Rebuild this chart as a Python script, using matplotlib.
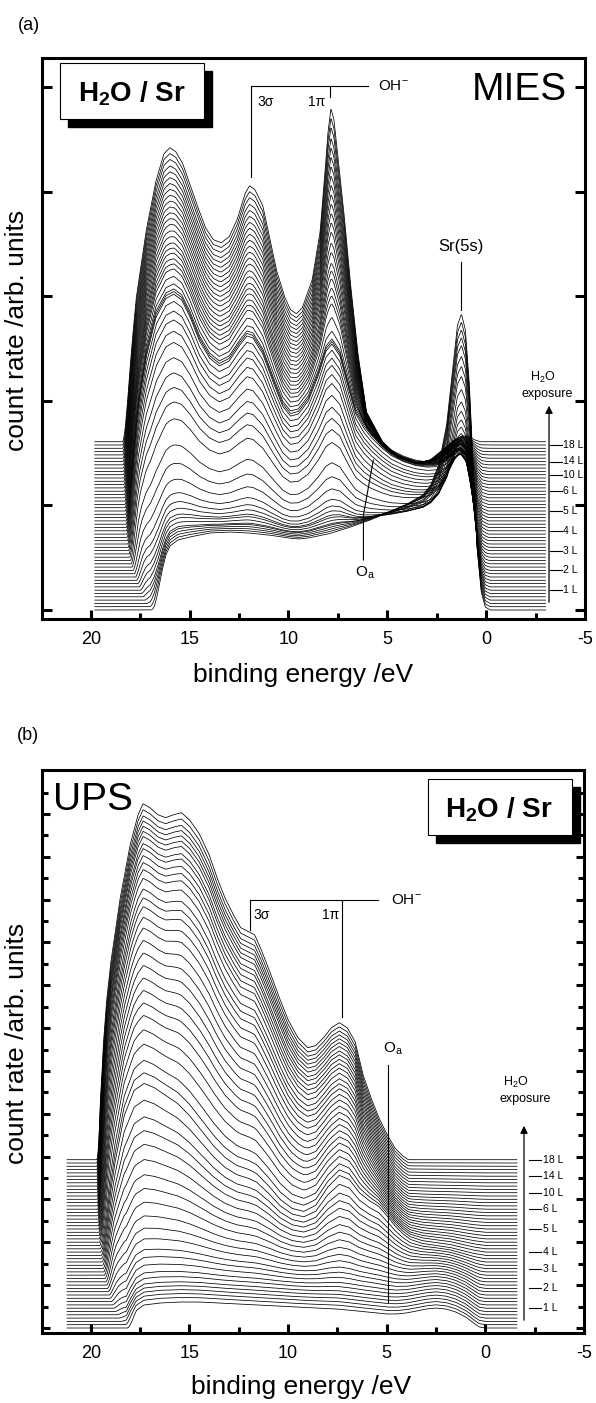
import numpy as np
import matplotlib
matplotlib.use("Agg")
import matplotlib.pyplot as plt
from matplotlib.patches import Rectangle
from matplotlib.ticker import FixedLocator

plt.rcParams['font.family'] = ['Liberation Sans', 'DejaVu Sans']
plt.rcParams['mathtext.fontset'] = 'custom'
plt.rcParams['mathtext.rm'] = 'Liberation Sans'
plt.rcParams['mathtext.it'] = 'Liberation Sans:italic'
plt.rcParams['mathtext.bf'] = 'Liberation Sans:bold'

# ------------------------------------------------------------------ data
N_SPECTRA = 52
OFFSET_STEP = 3.3          # counts between successive spectra
EXPOSURE_LABELS = ["1 L", "2 L", "3 L", "4 L", "5 L", "6 L", "10 L", "14 L", "18 L"]
EXPOSURE_INDEX_A = [6, 12, 18, 24, 30, 36, 41, 45, 50]
EXPOSURE_INDEX_B = [6, 12, 18, 23, 30, 36, 41, 46, 51]

# MIES reference spectra (binding energy / eV, intensity / counts)
MIES_E_CLEAN = [17.0, 16.8, 16.6, 16.4, 16.2, 16.0, 15.6, 15.0, 14.0, 13.0, 12.0, 11.0, 10.0,
                9.5, 9.0, 8.0, 7.0, 6.0, 5.0, 4.0, 3.2, 2.8, 2.4, 2.0, 1.7, 1.45, 1.25, 1.05,
                0.85, 0.65, 0.45, 0.25, 0.05, -0.2, -3.5]
MIES_I_CLEAN = [0, 8, 22, 40, 55, 64, 70, 73, 77, 78, 77, 75, 72,
                71, 72, 76, 82, 89, 97, 106, 115, 125, 145, 185, 240, 285, 296, 280,
                225, 140, 60, 18, 3, 0, 0]
MIES_E_MID = [18.3, 18.0, 17.6, 17.2, 16.7, 16.2, 15.8, 15.4, 15.0, 14.5, 14.0, 13.5, 13.0,
              12.5, 12.1, 11.8, 11.3, 10.8, 10.3, 9.9, 9.5, 9.0, 8.5, 8.1, 7.8, 7.4, 7.0,
              6.6, 6.2, 5.8, 5.3, 4.8, 4.2, 3.6, 3.0, 2.5, 2.0, 1.6, 1.3, 1.0, 0.7, 0.45,
              0.2, -0.1, -3.5]
MIES_I_MID = [0, 60, 120, 170, 210, 228, 232, 226, 210, 185, 168, 160, 165,
              180, 190, 188, 172, 145, 120, 110, 112, 125, 150, 175, 182, 170, 140,
              112, 98, 88, 78, 70, 64, 60, 58, 58, 63, 70, 72, 65, 40, 15,
              3, 0, 0]
MIES_E_OH = [18.45, 18.2, 17.9, 17.7, 17.2, 16.7, 16.3, 16.0, 15.7, 15.35, 14.65, 14.2, 13.8,
             13.4, 13.0, 12.6, 12.2, 11.97, 11.7, 11.3, 10.6, 10.2, 9.9, 9.6, 9.3, 8.8, 8.4,
             8.15, 8.0, 7.85, 7.7, 7.5, 7.2, 6.9, 6.5, 6.06, 5.25, 4.5, 3.5, 2.8, 2.2, 1.6,
             1.2, 0.9, 0.6, 0.3, -3.5]
MIES_I_OH = [0, 50, 105, 144, 211, 261, 288, 294, 290, 278, 238, 214, 202,
             199, 205, 222, 248, 256, 252, 236, 171, 145, 132, 128, 134, 162, 210,
             270, 310, 333, 322, 285, 230, 165, 90, 30, 0, -15, -22, -18, -8, 2,
             6, 5, 2, 0, 0]

# weights of the reference spectra for each of the 52 MIES spectra (bottom -> top)
MIES_W_CLEAN = [1.00, 0.96, 0.92, 0.88, 0.84, 0.79, 0.74, 0.69, 0.63, 0.57, 0.52, 0.47, 0.42,
                0.37, 0.32, 0.28, 0.24, 0.20, 0.16, 0.13, 0.10, 0.08, 0.06, 0.04, 0.03, 0.02,
                0.01, 0, 0, 0, 0, 0, 0, 0, 0, 0, 0, 0, 0, 0, 0, 0, 0, 0, 0, 0, 0, 0, 0, 0, 0, 0]
MIES_W_MID = [0, 0.01, 0.02, 0.03, 0.04, 0.05, 0.07, 0.09, 0.11, 0.14, 0.17, 0.21, 0.27,
              0.34, 0.42, 0.53, 0.60, 0.66, 0.72, 0.78, 0.84, 0.88, 0.92, 0.95, 0.98, 1.0,
              1.0, 1.0, 0.97, 0.90, 0.83, 0.80, 0.77, 0.73, 0.70, 0.67, 0.62, 0.58, 0.53,
              0.49, 0.45, 0.41, 0.37, 0.33, 0.29, 0.25, 0.21, 0.17, 0.13, 0.08, 0.04, 0]
MIES_W_OH = [0, 0, 0, 0, 0, 0, 0, 0, 0, 0, 0, 0, 0, 0, 0, 0, 0, 0, 0, 0, 0, 0, 0, 0, 0, 0,
             0, 0, 0.03, 0.10, 0.17, 0.20, 0.23, 0.27, 0.30, 0.33, 0.38, 0.42, 0.47, 0.51,
             0.55, 0.59, 0.63, 0.67, 0.71, 0.75, 0.79, 0.83, 0.87, 0.92, 0.96, 1.0]
MIES_CUTOFF = [16.95, 17.05, 17.15, 17.25, 17.35, 17.42, 17.48, 17.54, 17.60, 17.66, 17.72,
               17.78, 17.84, 17.90, 17.94, 17.98, 18.02, 18.05, 18.08, 18.10, 18.12, 18.14,
               18.16, 18.18, 18.19, 18.20, 18.21, 18.22, 18.23, 18.24, 18.25, 18.26, 18.27,
               18.28, 18.29, 18.30, 18.31, 18.32, 18.33, 18.34, 18.34, 18.35, 18.35, 18.36,
               18.36, 18.37, 18.37, 18.38, 18.38, 18.39, 18.39, 18.40]

# UPS reference spectra
UPS_E_CLEAN = [18.2, 18.0, 17.7, 17.3, 16.5, 15.5, 14.5, 13.5, 12.5, 11.5, 10.5, 9.5, 8.5,
               7.5, 6.5, 5.5, 5.0, 4.5, 4.0, 3.5, 3.0, 2.5, 2.0, 1.5, 1.0, 0.6, 0.3, 0.0, -2.0]
UPS_I_CLEAN = [0, 8, 18, 23, 25, 26, 26, 25, 24, 23, 22, 21, 20,
               19, 17, 15, 14, 14, 15, 17, 19, 20, 19, 16, 11, 5, 1, 0, 0]
UPS_E_MID = [19.5, 19.2, 18.8, 18.3, 17.8, 17.3, 16.8, 16.2, 15.6, 15.0, 14.4, 13.8, 13.2,
             12.6, 12.0, 11.6, 11.0, 10.4, 9.8, 9.2, 8.6, 8.0, 7.4, 6.9, 6.4, 5.9, 5.4, 5.0,
             4.6, 4.2, 3.8, 3.2, 2.5, 1.8, 1.2, 0.6, 0.0, -2.0]
UPS_I_MID = [0, 40, 90, 140, 165, 172, 168, 160, 152, 140, 125, 110, 98,
             90, 86, 82, 70, 56, 47, 44, 50, 68, 80, 76, 63, 55, 49, 40,
             30, 22, 16, 12, 10, 8, 5, 2, 0, 0]
UPS_E_OH = [19.7, 19.53, 19.0, 18.52, 18.0, 17.6, 17.35, 17.0, 16.6, 16.2, 15.8, 15.4, 15.0,
            14.5, 14.0, 13.6, 13.2, 12.8, 12.4, 12.0, 11.7, 11.4, 11.0, 10.5, 10.0, 9.5, 9.0,
            8.6, 8.2, 7.8, 7.4, 7.0, 6.6, 6.2, 5.8, 5.4, 5.0, 4.6, 4.2, 3.9, -2.0]
UPS_I_OH = [0, 110, 195, 260, 315, 345, 356, 352, 345, 342, 345, 347, 340,
            326, 305, 282, 262, 246, 232, 228, 225, 212, 192, 165, 140, 122, 112,
            114, 122, 132, 137, 132, 118, 85, 62, 42, 26, 12, 4, 0, 0]

UPS_W_CLEAN = [1, 0.99, 0.985, 0.98, 0.975, 0.97, 0.955, 0.94, 0.91, 0.88, 0.85, 0.80, 0.75,
               0.69, 0.62, 0.55, 0.48, 0.40, 0.32, 0.25, 0.18, 0.09, 0, 0, 0, 0, 0, 0, 0, 0,
               0, 0, 0, 0, 0, 0, 0, 0, 0, 0, 0, 0, 0, 0, 0, 0, 0, 0, 0, 0, 0, 0]
UPS_W_MID = [0, 0.01, 0.015, 0.02, 0.025, 0.03, 0.045, 0.06, 0.09, 0.12, 0.15, 0.20, 0.25,
             0.31, 0.38, 0.45, 0.52, 0.60, 0.68, 0.75, 0.82, 0.91, 1.0, 0.96, 0.91, 0.84,
             0.78, 0.72, 0.67, 0.62, 0.57, 0.52, 0.47, 0.42, 0.37, 0.33, 0.29, 0.26, 0.23,
             0.19, 0.16, 0.14, 0.12, 0.10, 0.09, 0.07, 0.06, 0.05, 0.04, 0.03, 0.015, 0]
UPS_W_OH = [0, 0, 0, 0, 0, 0, 0, 0, 0, 0, 0, 0, 0, 0, 0, 0, 0, 0, 0, 0, 0, 0, 0,
            0.04, 0.09, 0.16, 0.22, 0.28, 0.33, 0.38, 0.43, 0.48, 0.53, 0.58, 0.63, 0.67,
            0.71, 0.74, 0.77, 0.81, 0.84, 0.86, 0.88, 0.90, 0.91, 0.93, 0.94, 0.95, 0.96,
            0.97, 0.985, 1.0]
UPS_CUTOFF = [18.15, 18.30, 18.45, 18.55, 18.65, 18.75, 18.82, 18.88, 18.94, 19.00, 19.05,
              19.10, 19.14, 19.18, 19.22, 19.26, 19.30, 19.33, 19.36, 19.39, 19.42, 19.45,
              19.47, 19.49, 19.51, 19.53, 19.55, 19.56, 19.57, 19.58, 19.59, 19.60, 19.61,
              19.62, 19.63, 19.64, 19.64, 19.65, 19.65, 19.66, 19.66, 19.67, 19.67, 19.68,
              19.68, 19.68, 19.69, 19.69, 19.69, 19.70, 19.70, 19.70]

# shape of the secondary-electron cut-off (depth below cut-off / eV, factor)
EDGE_DEPTH = [0.0, 0.1, 0.2, 0.35, 0.5, 0.7]
EDGE_FACTOR = [0.0, 0.25, 0.55, 0.85, 0.97, 1.0]

# ------------------------------------------------------------------ figure
W, H = 596, 1403
fig = plt.figure(figsize=(W / 100, H / 100), dpi=100)


def rect(l, t, r, b):
    return [l / W, 1 - b / H, (r - l) / W, (b - t) / H]


axA = fig.add_axes(rect(42, 58, 585, 619))
axB = fig.add_axes(rect(42, 770, 584, 1333))


def draw_stack(ax, bases, weights, cutoffs, e_start, e_end):
    grid = np.linspace(e_start, e_end, 900)
    vals = [np.interp(grid, np.array(e)[::-1], np.array(i)[::-1]) for e, i in bases]
    for n in range(N_SPECTRA):
        spec = sum(w[n] * v for w, v in zip(weights, vals))
        edge = np.interp(cutoffs[n] - grid, EDGE_DEPTH, EDGE_FACTOR, left=0.0, right=1.0)
        ax.plot(grid, n * OFFSET_STEP + edge * spec, color='k', lw=0.55)


draw_stack(axA,
           [(MIES_E_CLEAN, MIES_I_CLEAN), (MIES_E_MID, MIES_I_MID), (MIES_E_OH, MIES_I_OH)],
           [MIES_W_CLEAN, MIES_W_MID, MIES_W_OH], MIES_CUTOFF, 19.8, -3.0)
draw_stack(axB,
           [(UPS_E_CLEAN, UPS_I_CLEAN), (UPS_E_MID, UPS_I_MID), (UPS_E_OH, UPS_I_OH)],
           [UPS_W_CLEAN, UPS_W_MID, UPS_W_OH], UPS_CUTOFF, 21.2, -1.6)


def style(ax, ylim, major, minor, ylen_major, ylen_minor):
    ax.set_xlim(22.47, -5)
    ax.set_ylim(*ylim)
    ax.set_xticks([20, 15, 10, 5, 0, -5])
    ax.set_xticklabels(['20', '15', '10', '5', '0', '-5'])
    ax.xaxis.set_minor_locator(FixedLocator([17.5, 12.5, 7.5, 2.5, -2.5]))
    ax.yaxis.set_major_locator(FixedLocator(major))
    ax.yaxis.set_minor_locator(FixedLocator(minor))
    for s in ax.spines.values():
        s.set_linewidth(2.2)
    ax.tick_params(axis='x', which='major', direction='in', length=6.5, width=2.2,
                   labelsize=13, pad=9, top=False)
    ax.tick_params(axis='x', which='minor', direction='in', length=4, width=2.2, top=False)
    ax.tick_params(axis='y', which='major', direction='in', length=ylen_major, width=2.2,
                   left=True, right=True, labelleft=False)
    ax.tick_params(axis='y', which='minor', direction='in', length=ylen_minor, width=2.2,
                   left=True, right=True, labelleft=False)


style(axA, (-9, 552), [0, 104.6, 209.2, 313.8, 418.4, 523], [], 7.2, 0)
b_ticks = [21.42 * k for k in range(26)]
style(axB, (-5, 558), b_ticks[::2], b_ticks[1::2], 5.8, 4.3)

LW = 0.8
# ---- panel (a) annotations
axA.plot([11.92, 11.92], [433, 524], color='k', lw=LW)
axA.plot([11.92, 5.96], [524, 524], color='k', lw=LW)
axA.plot([7.88, 7.88], [524, 513], color='k', lw=LW)
axA.text(5.45, 524, r'OH$^{-}$', ha='left', va='center', fontsize=11)
axA.text(11.57, 508, '3σ', ha='left', va='center', fontsize=10)
axA.text(8.59, 508, '1π', ha='center', va='center', fontsize=10)
axA.plot([1.26, 1.26], [300, 348], color='k', lw=LW)
axA.text(1.26, 363, 'Sr(5s)', ha='center', va='center', fontsize=12)
axA.plot([6.21, 6.21, 5.71], [50, 95, 150], color='k', lw=LW)
axA.text(6.11, 37, r'O$_\mathrm{a}$', ha='center', va='center', fontsize=11)
axA.text(-4.09, 510, 'MIES', ha='right', va='baseline', fontsize=28)
axA.annotate('', xy=(-3.18, 207), xytext=(-3.18, 5),
             arrowprops=dict(arrowstyle='-|>', lw=0.9, color='k', mutation_scale=11))
axA.text(-2.88, 233, r'H$_2$O', ha='center', va='center', fontsize=9)
axA.text(-3.08, 216, 'exposure', ha='center', va='center', fontsize=9)
for lab, idx in zip(EXPOSURE_LABELS, EXPOSURE_INDEX_A):
    y = idx * OFFSET_STEP
    axA.plot([-3.23, -3.84], [y, y], color='k', lw=0.8)
    axA.text(-3.89, y, lab, ha='left', va='center', fontsize=7.5)

# ---- panel (b) annotations
axB.plot([11.93, 11.93], [398, 428], color='k', lw=LW)
axB.plot([11.93, 5.45], [428, 428], color='k', lw=LW)
axB.plot([7.27, 7.27], [428, 311], color='k', lw=LW)
axB.text(4.79, 428, r'OH$^{-}$', ha='left', va='center', fontsize=11)
axB.text(11.78, 413, '3σ', ha='left', va='center', fontsize=10)
axB.text(7.41, 413, '1π', ha='right', va='center', fontsize=10)
axB.plot([4.95, 4.95], [26, 263], color='k', lw=LW)
axB.text(4.68, 279, r'O$_\mathrm{a}$', ha='center', va='center', fontsize=11)
axB.text(21.91, 518, 'UPS', ha='left', va='baseline', fontsize=28)
axB.annotate('', xy=(-1.96, 205), xytext=(-1.96, 5),
             arrowprops=dict(arrowstyle='-|>', lw=0.9, color='k', mutation_scale=11))
axB.text(-1.56, 246, r'H$_2$O', ha='center', va='center', fontsize=9)
axB.text(-2.01, 229, 'exposure', ha='center', va='center', fontsize=9)
for lab, idx in zip(EXPOSURE_LABELS, EXPOSURE_INDEX_B):
    y = idx * OFFSET_STEP
    axB.plot([-2.22, -2.83], [y, y], color='k', lw=0.8)
    axB.text(-2.93, y, lab, ha='left', va='center', fontsize=7.5)


# ---- boxes with shadow
def box(l, t, r, b, label, cx, base):
    fig.add_artist(Rectangle(((l + 8) / W, 1 - (b + 8) / H), (r - l) / W, (b - t) / H,
                             transform=fig.transFigure, facecolor='k', edgecolor='k',
                             zorder=10))
    fig.add_artist(Rectangle((l / W, 1 - b / H), (r - l) / W, (b - t) / H,
                             transform=fig.transFigure, facecolor='white', edgecolor='k',
                             lw=0.8, zorder=11))
    fig.text(cx / W, 1 - base / H, label, ha='center', va='baseline', fontsize=20,
             fontweight='bold', zorder=12)


box(60, 63, 204, 119, r'H$_\mathbf{2}$O / Sr', 132, 102)
box(428, 779, 572, 835, r'H$_\mathbf{2}$O / Sr', 499, 817)

# ---- panel letters and axis labels
fig.text(29 / W, 1 - 25 / H, '(a)', ha='center', va='center', fontsize=13)
fig.text(28 / W, 1 - 736 / H, '(b)', ha='center', va='center', fontsize=13)
fig.text(303 / W, 1 - 675 / H, 'binding energy /eV', ha='center', va='center', fontsize=19)
fig.text(301 / W, 1 - 1387 / H, 'binding energy /eV', ha='center', va='center', fontsize=19)
fig.text(17 / W, 1 - 330 / H, 'count rate /arb. units', ha='center', va='center',
         rotation=90, fontsize=19)
fig.text(17 / W, 1 - 1043 / H, 'count rate /arb. units', ha='center', va='center',
         rotation=90, fontsize=19)

fig.savefig('out.png', dpi=100)
